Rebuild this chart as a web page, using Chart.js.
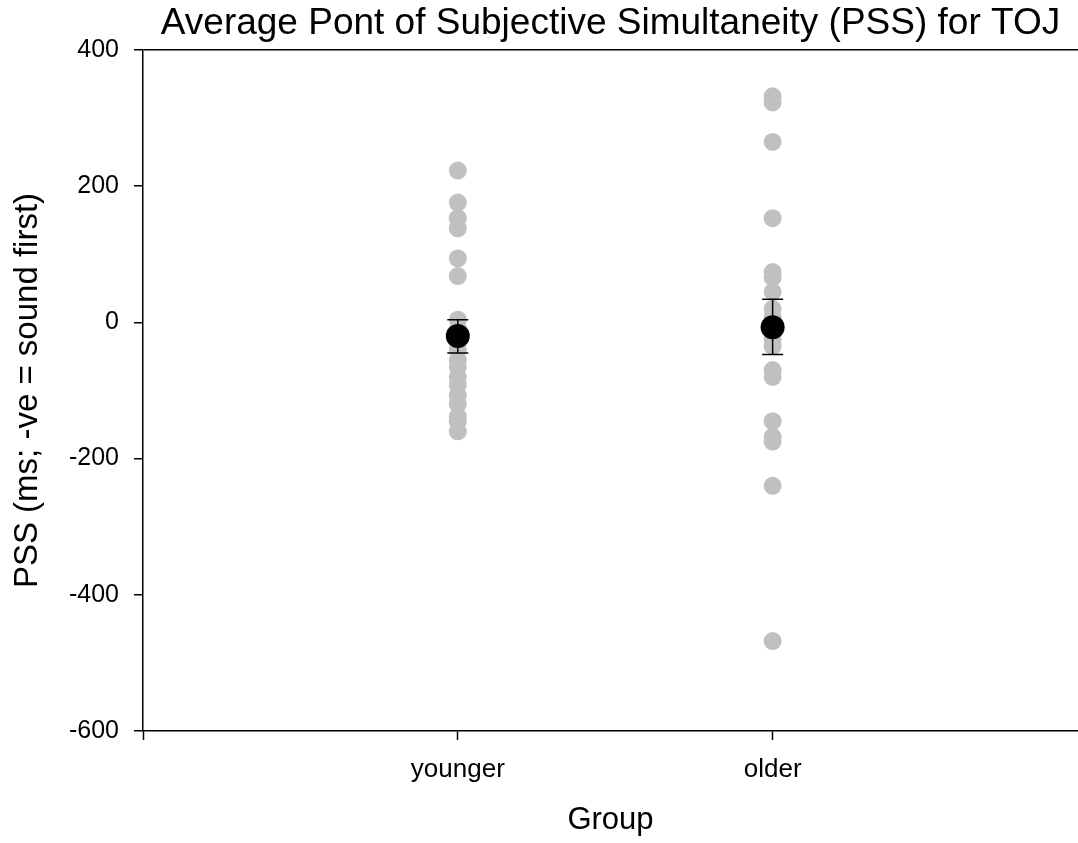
<!DOCTYPE html>
<html>
<head>
<meta charset="utf-8">
<script src="https://cdn.jsdelivr.net/npm/chart.js@4/dist/chart.umd.min.js"></script>
<style>
  body { margin: 0; background: #fff; }
  canvas { display: block; }
</style>
</head>
<body>
<canvas id="pssChart" width="1078" height="843"></canvas>
<script>
// data
const groups = ['younger', 'older']
const youngerPSS = [223, 176, 153, 138, 94, 68, 4, -10, -25, -40, -55, -65, -80, -92, -107, -120, -138, -145, -160]
const olderPSS = [332, 323, 265, 153, 74, 66, 45, 20, 8, 0, -15, -25, -35, -70, -80, -145, -168, -175, -240, -468]
const meanPSS = [-20, -7]
const errLow = [-45, -47]
const errHigh = [4, 34]

let rawPoints = []
youngerPSS.forEach(v => rawPoints.push({x: 1, y: v}))
olderPSS.forEach(v => rawPoints.push({x: 2, y: v}))
const meanPoints = meanPSS.map((v, i) => ({x: i + 1, y: v}))

const fontName = "'Liberation Sans', Arial, sans-serif"

// error bars go on top of the grey dots but under the black means
const errorBars = {
  id: 'errorBars',
  afterDatasetDraw(chart, args) {
    if (args.index !== 1) return
    const ctx = chart.ctx
    const xs = chart.scales.x, ys = chart.scales.y
    ctx.save()
    ctx.strokeStyle = '#000'
    ctx.lineWidth = 1.5
    for (let i = 0; i < meanPSS.length; i++) {
      const px = xs.getPixelForValue(i + 1)
      const top = ys.getPixelForValue(errHigh[i])
      const bot = ys.getPixelForValue(errLow[i])
      ctx.beginPath()
      ctx.moveTo(px, top); ctx.lineTo(px, bot)
      ctx.moveTo(px - 10.5, top); ctx.lineTo(px + 10.5, top)
      ctx.moveTo(px - 10.5, bot); ctx.lineTo(px + 10.5, bot)
      ctx.stroke()
    }
    ctx.restore()
  }
}

const config = {
  type: 'scatter',
  data: {
    datasets: [
      {
        label: 'mean',
        data: meanPoints,
        backgroundColor: '#000',
        borderColor: '#000',
        pointRadius: 12,
        borderWidth: 0
      },
      {
        label: 'participants',
        data: rawPoints,
        backgroundColor: '#c0c0c0',
        borderColor: '#c0c0c0',
        pointRadius: 9,
        borderWidth: 0
      }
    ]
  },
  options: {
    responsive: false,
    animation: false,
    events: [],
    layout: { padding: 0, autoPadding: false },
    plugins: {
      legend: { display: false },
      tooltip: { enabled: false },
      title: {
        display: true,
        fullSize: false,
        text: 'Average Pont of Subjective Simultaneity (PSS) for TOJ',
        color: '#000',
        font: { family: fontName, size: 37, weight: 'normal', lineHeight: 1.2 },
        padding: { top: 2, bottom: 3.6 }
      }
    },
    scales: {
      x: {
        type: 'linear',
        min: 0,
        max: 2.97,
        afterBuildTicks: s => { s.ticks = s.ticks.filter(t => Number.isInteger(t.value)) },
        afterFit: s => { s.height = 112; s.paddingLeft = 0; s.paddingRight = 0 },
        border: { color: '#000', width: 1.5 },
        grid: { drawOnChartArea: false, tickLength: 9, tickColor: '#000', tickWidth: 1.5 },
        ticks: {
          stepSize: 1,
          color: '#000',
          padding: 14,
          maxRotation: 0,
          font: { family: fontName, size: 26 },
          callback: v => groups[v - 1] || ''
        },
        title: {
          display: true,
          text: 'Group',
          color: '#000',
          font: { family: fontName, size: 31 },
          padding: { top: 0, bottom: 4 }
        }
      },
      y: {
        min: -600,
        max: 400,
        afterFit: s => { s.width = 143 },
        border: { color: '#000', width: 1.5 },
        grid: {
          tickLength: 9,
          tickColor: '#000',
          tickWidth: 1.5,
          lineWidth: 1.5,
          color: c => (c.tick && c.tick.value === 400) ? '#000' : 'rgba(0,0,0,0)'
        },
        ticks: {
          stepSize: 200,
          color: '#000',
          padding: 15,
          font: { family: fontName, size: 25 }
        },
        title: {
          display: true,
          text: 'PSS (ms; -ve = sound first)',
          color: '#000',
          font: { family: fontName, size: 33 },
          padding: { top: 8, bottom: 0 }
        }
      }
    }
  },
  plugins: [errorBars]
}

window.onload = () => {
  new Chart(document.getElementById('pssChart'), config)
}
</script>
</body>
</html>
